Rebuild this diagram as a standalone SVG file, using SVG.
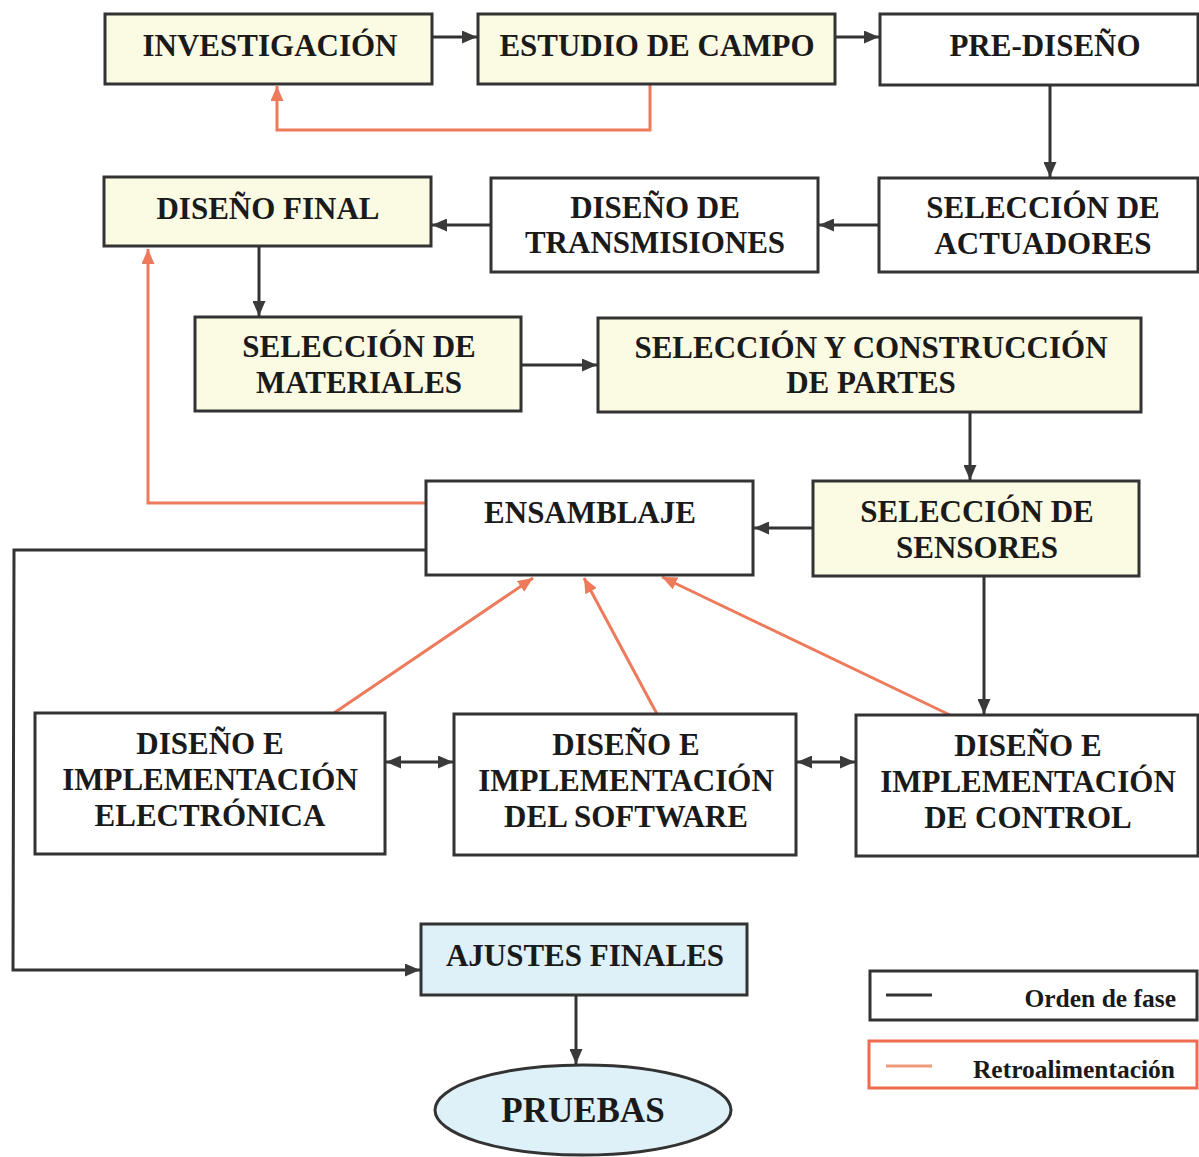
<svg xmlns="http://www.w3.org/2000/svg" width="1199" height="1157" viewBox="0 0 1199 1157">
  <style>
    .box { stroke: #333; stroke-width: 3; }
    .cream { fill: #fbfbe4; }
    .white { fill: #ffffff; }
    .blue { fill: #def1f8; }
    .lbl { font-family: "Liberation Serif", "Times New Roman", serif; font-weight: bold; font-size: 31px; fill: #1a1a1a; text-anchor: middle; }
    .leg { font-family: "Liberation Serif", "Times New Roman", serif; font-weight: bold; font-size: 25.5px; fill: #1a1a1a; text-anchor: end; }
    .flow { fill: none; stroke: #333; stroke-width: 3; }
    .fb { fill: none; stroke: #ee7a5c; stroke-width: 3; }
  </style>
  <defs>
    <marker id="ah" markerUnits="userSpaceOnUse" markerWidth="15" markerHeight="13" refX="15" refY="6.5" orient="auto-start-reverse">
      <path d="M0,0 L15,6.5 L0,13 z" fill="#3a3a3a"/>
    </marker>
    <marker id="ahr" markerUnits="userSpaceOnUse" markerWidth="15" markerHeight="13" refX="15" refY="6.5" orient="auto">
      <path d="M0,0 L15,6.5 L0,13 z" fill="#ee7a5c"/>
    </marker>
  </defs>
  <rect width="1199" height="1157" fill="#ffffff"/>

  <!-- connectors: dark = phase order, salmon = feedback -->
  <g id="connectors">
    <line class="flow" x1="432" y1="37" x2="477" y2="37" marker-end="url(#ah)"/>
    <line class="flow" x1="835" y1="37" x2="879" y2="37" marker-end="url(#ah)"/>
    <polyline class="fb" points="650,84 650,130 277,130 277,86" marker-end="url(#ahr)"/>
    <line class="flow" x1="1050" y1="85" x2="1050" y2="177" marker-end="url(#ah)"/>
    <line class="flow" x1="879" y1="225" x2="819" y2="225" marker-end="url(#ah)"/>
    <line class="flow" x1="491" y1="225" x2="432" y2="225" marker-end="url(#ah)"/>
    <line class="flow" x1="259" y1="246" x2="259" y2="316" marker-end="url(#ah)"/>
    <line class="flow" x1="521" y1="365" x2="597" y2="365" marker-end="url(#ah)"/>
    <line class="flow" x1="970" y1="412" x2="970" y2="480" marker-end="url(#ah)"/>
    <line class="flow" x1="813" y1="528" x2="754" y2="528" marker-end="url(#ah)"/>
    <polyline class="fb" points="426,503 148,503 148,249" marker-end="url(#ahr)"/>
    <polyline class="flow" points="426,550 14,550 13,970 420,970" marker-end="url(#ah)"/>
    <line class="flow" x1="984" y1="576" x2="984" y2="714" marker-end="url(#ah)"/>
    <line class="fb" x1="334" y1="713" x2="533" y2="578" marker-end="url(#ahr)"/>
    <line class="fb" x1="657" y1="714" x2="584" y2="578" marker-end="url(#ahr)"/>
    <line class="fb" x1="950" y1="715" x2="662" y2="577" marker-end="url(#ahr)"/>
    <line class="flow" x1="386" y1="762" x2="453" y2="762" marker-start="url(#ah)" marker-end="url(#ah)"/>
    <line class="flow" x1="797" y1="762" x2="855" y2="762" marker-start="url(#ah)" marker-end="url(#ah)"/>
    <line class="flow" x1="576" y1="995" x2="576" y2="1064" marker-end="url(#ah)"/>
  </g>

  <g id="investigacion">
    <rect class="box cream" x="105" y="14" width="327" height="70"/>
    <text class="lbl" x="270" y="56">INVESTIGACIÓN</text>
  </g>
  <g id="estudio-campo">
    <rect class="box cream" x="478" y="14" width="357" height="70"/>
    <text class="lbl" x="657" y="56">ESTUDIO DE CAMPO</text>
  </g>
  <g id="pre-diseno">
    <rect class="box white" x="880" y="14" width="318" height="71"/>
    <text class="lbl" x="1045" y="56">PRE-DISEÑO</text>
  </g>
  <g id="seleccion-actuadores">
    <rect class="box white" x="879" y="178" width="319" height="94"/>
    <text class="lbl" x="1043" y="218">SELECCIÓN DE</text>
    <text class="lbl" x="1043" y="254">ACTUADORES</text>
  </g>
  <g id="diseno-transmisiones">
    <rect class="box white" x="491" y="178" width="327" height="94"/>
    <text class="lbl" x="655" y="218">DISEÑO DE</text>
    <text class="lbl" x="655" y="253">TRANSMISIONES</text>
  </g>
  <g id="diseno-final">
    <rect class="box cream" x="104" y="177" width="327" height="69"/>
    <text class="lbl" x="268" y="219">DISEÑO FINAL</text>
  </g>
  <g id="seleccion-materiales">
    <rect class="box cream" x="195" y="317" width="326" height="94"/>
    <text class="lbl" x="359" y="357">SELECCIÓN DE</text>
    <text class="lbl" x="359" y="393">MATERIALES</text>
  </g>
  <g id="seleccion-partes">
    <rect class="box cream" x="598" y="318" width="543" height="94"/>
    <text class="lbl" x="871" y="358">SELECCIÓN Y CONSTRUCCIÓN</text>
    <text class="lbl" x="871" y="393">DE PARTES</text>
  </g>
  <g id="ensamblaje">
    <rect class="box white" x="426" y="481" width="327" height="94"/>
    <text class="lbl" x="590" y="523">ENSAMBLAJE</text>
  </g>
  <g id="seleccion-sensores">
    <rect class="box cream" x="813" y="481" width="326" height="95"/>
    <text class="lbl" x="977" y="522">SELECCIÓN DE</text>
    <text class="lbl" x="977" y="558">SENSORES</text>
  </g>
  <g id="impl-electronica">
    <rect class="box white" x="35" y="713" width="350" height="141"/>
    <text class="lbl" x="210" y="754">DISEÑO E</text>
    <text class="lbl" x="210" y="790">IMPLEMENTACIÓN</text>
    <text class="lbl" x="210" y="826">ELECTRÓNICA</text>
  </g>
  <g id="impl-software">
    <rect class="box white" x="454" y="714" width="342" height="141"/>
    <text class="lbl" x="626" y="755">DISEÑO E</text>
    <text class="lbl" x="626" y="791">IMPLEMENTACIÓN</text>
    <text class="lbl" x="626" y="827">DEL SOFTWARE</text>
  </g>
  <g id="impl-control">
    <rect class="box white" x="856" y="715" width="342" height="141"/>
    <text class="lbl" x="1028" y="756">DISEÑO E</text>
    <text class="lbl" x="1028" y="792">IMPLEMENTACIÓN</text>
    <text class="lbl" x="1028" y="828">DE CONTROL</text>
  </g>
  <g id="ajustes-finales">
    <rect class="box blue" x="421" y="924" width="326" height="71"/>
    <text class="lbl" x="585" y="966">AJUSTES FINALES</text>
  </g>
  <g id="pruebas">
    <ellipse class="box blue" cx="583" cy="1110" rx="148" ry="45"/>
    <text class="lbl" x="583" y="1122" style="font-size:35px">PRUEBAS</text>
  </g>

  <g id="legend">
    <rect x="870" y="971" width="327" height="49" fill="#fff" stroke="#333" stroke-width="3"/>
    <line x1="886" y1="995" x2="932" y2="995" stroke="#333" stroke-width="3"/>
    <text class="leg" x="1176" y="1007">Orden de fase</text>
    <rect x="869" y="1041" width="328" height="47" fill="#fff" stroke="#ee6a50" stroke-width="3"/>
    <line x1="886" y1="1066" x2="932" y2="1066" stroke="#ee9a7a" stroke-width="3"/>
    <text class="leg" x="1175" y="1078">Retroalimentación</text>
  </g>
</svg>
